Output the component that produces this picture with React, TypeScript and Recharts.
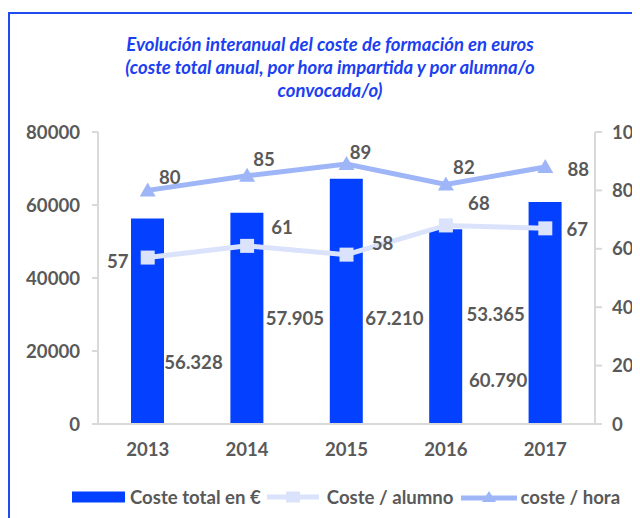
import React from "react";
import { ComposedChart, Bar, Line, XAxis, YAxis, LabelList } from "recharts";

const years = ["2013", "2014", "2015", "2016", "2017"];
const costeTotal = [56328, 57905, 67210, 53365, 60790];
const costeAlumno = [57, 61, 58, 68, 67];
const costeHora = [80, 85, 89, 82, 88];
const leftTicks = [0, 20000, 40000, 60000, 80000];
const rightTicks = [0, 20, 40, 60, 80, 100];

const titleLines = [
  "Evolución interanual del coste de formación en euros",
  "(coste total anual, por hora impartida y por alumna/o",
  "convocada/o)",
];

// label offsets (style) relative to each mark
const barLabelOffset = [
  [46, 144],
  [48, 105],
  [48, 139],
  [50, 85],
  [-47, 178],
];
const horaLabelOffset = [
  [22, -13],
  [17, -17],
  [14, -12],
  [18, -18],
  [33, 2],
];
const alumnoLabelOffset = [
  [-30, 3],
  [35, -19],
  [36, -12],
  [33, -22],
  [32, 1],
];

const data = years.map((y, i) => ({
  year: y,
  total: costeTotal[i],
  alumno: costeAlumno[i],
  hora: costeHora[i],
}));

const FONT = "Lato, 'Noto Sans', sans-serif";
const FS = 18.6;
const GRAY = "#595959";
const AXIS = "#d9d9d9";
const BAR = "#0340FF";
const HORA = "#9EB5F7";
const ALUMNO = "#DAE3FB";
const BLUE_TITLE = "#1C3FF0";

const fmtThousands = (v: number) => {
  const s = String(Math.round(v));
  return s.replace(/\B(?=(\d{3})+(?!\d))/g, ".");
};

const BarLabel = (props: any) => {
  const { x, y, width, value, index } = props;
  const [dx, dy] = barLabelOffset[index];
  return (
    <text
      x={x + width / 2 + dx}
      y={y + dy}
      textAnchor="middle"
      dominantBaseline="central"
      fill={GRAY}
      fontFamily={FONT}
      fontWeight={700}
      fontSize={FS}
    >
      {fmtThousands(value)}
    </text>
  );
};

const makePointLabel = (offsets: number[][]) => (props: any) => {
  const { x, y, value, index } = props;
  const [dx, dy] = offsets[index];
  return (
    <text
      x={x + dx}
      y={y + dy}
      textAnchor="middle"
      dominantBaseline="central"
      fill={GRAY}
      fontFamily={FONT}
      fontWeight={700}
      fontSize={FS}
    >
      {value}
    </text>
  );
};

const SquareDot = (props: any) => {
  const { cx, cy } = props;
  if (cx == null || cy == null) return null;
  return <rect x={cx - 7} y={cy - 7} width={14} height={14} fill={ALUMNO} />;
};

const TriangleDot = (props: any) => {
  const { cx, cy } = props;
  if (cx == null || cy == null) return null;
  return (
    <polygon
      points={`${cx},${cy - 8} ${cx + 8},${cy + 6} ${cx - 8},${cy + 6}`}
      fill={HORA}
    />
  );
};

const tickStyle = { fill: GRAY, fontFamily: FONT, fontWeight: 700, fontSize: FS };

const legendText: React.CSSProperties = {
  fontFamily: FONT,
  fontWeight: 700,
  fontSize: FS,
  color: GRAY,
  whiteSpace: "nowrap",
};

export default function App() {
  return (
    <div style={{ position: "relative", width: 632, height: 510, overflow: "hidden", background: "#fff" }}>
      <div
        style={{
          position: "absolute",
          left: 0,
          top: 4,
          width: 660,
          height: 540,
          borderTop: "2px solid #1F4CF0",
          borderLeft: "2px solid #1F4CF0",
          boxSizing: "border-box",
        }}
      />
      <div
        style={{
          position: "absolute",
          left: 0,
          top: 25,
          width: 644,
          textAlign: "center",
          fontFamily: FONT,
          fontWeight: 700,
          fontStyle: "italic",
          fontSize: 18.5,
          lineHeight: "23px",
          color: BLUE_TITLE,
        }}
      >
        {titleLines.map((t) => (
          <div key={t}>{t}</div>
        ))}
      </div>
      <div style={{ position: "absolute", left: 0, top: 0 }}>
        <ComposedChart
          width={632}
          height={510}
          data={data}
          margin={{ top: 124, right: 0, bottom: 64, left: 0 }}
        >
          <XAxis
            dataKey="year"
            xAxisId="x"
            axisLine={{ stroke: AXIS, strokeWidth: 2 }}
            tickLine={false}
            tickSize={0}
            tickMargin={19}
            height={30}
            tick={tickStyle}
          />
          <YAxis
            yAxisId="left"
            orientation="left"
            width={90}
            domain={[0, 80000]}
            ticks={leftTicks}
            axisLine={{ stroke: AXIS, strokeWidth: 2 }}
            tickLine={{ stroke: AXIS, strokeWidth: 2 }}
            tickSize={6}
            tickMargin={12}
            tick={tickStyle}
          />
          <YAxis
            yAxisId="right"
            orientation="right"
            width={45}
            domain={[0, 100]}
            ticks={rightTicks}
            axisLine={{ stroke: AXIS, strokeWidth: 2 }}
            tickLine={{ stroke: AXIS, strokeWidth: 2 }}
            tickSize={7}
            tickMargin={10}
            tick={tickStyle}
          />
          <Bar
            dataKey="total"
            xAxisId="x"
            yAxisId="left"
            fill={BAR}
            barSize={33}
            isAnimationActive={false}
          >
            <LabelList dataKey="total" content={BarLabel} />
          </Bar>
          <Line
            dataKey="alumno"
            xAxisId="x"
            yAxisId="right"
            stroke={ALUMNO}
            strokeWidth={5}
            dot={<SquareDot />}
            activeDot={false}
            isAnimationActive={false}
          >
            <LabelList dataKey="alumno" content={makePointLabel(alumnoLabelOffset)} />
          </Line>
          <Line
            dataKey="hora"
            xAxisId="x"
            yAxisId="right"
            stroke={HORA}
            strokeWidth={5}
            dot={<TriangleDot />}
            activeDot={false}
            isAnimationActive={false}
          >
            <LabelList dataKey="hora" content={makePointLabel(horaLabelOffset)} />
          </Line>
        </ComposedChart>
      </div>
      <div
        style={{
          position: "absolute",
          left: 64,
          top: 478,
          height: 22,
          display: "flex",
          alignItems: "center",
        }}
      >
        <svg width={53} height={12} style={{ marginRight: 5 }}>
          <rect x={0} y={0.5} width={53} height={11} fill={BAR} />
        </svg>
        <span style={legendText}>Coste total en €</span>
        <svg width={52} height={12} style={{ marginLeft: 6, marginRight: 8 }}>
          <line x1={0} y1={6} x2={52} y2={6} stroke={ALUMNO} strokeWidth={5} />
          <rect x={19} y={0.5} width={14} height={11} fill={ALUMNO} />
        </svg>
        <span style={legendText}>Coste / alumno</span>
        <svg width={56} height={14} style={{ marginLeft: 7, marginRight: 4 }}>
          <line x1={0} y1={8} x2={56} y2={8} stroke={HORA} strokeWidth={5} />
          <polygon points="28,1 35,12 21,12" fill={HORA} />
        </svg>
        <span style={legendText}>coste / hora</span>
      </div>
    </div>
  );
}
